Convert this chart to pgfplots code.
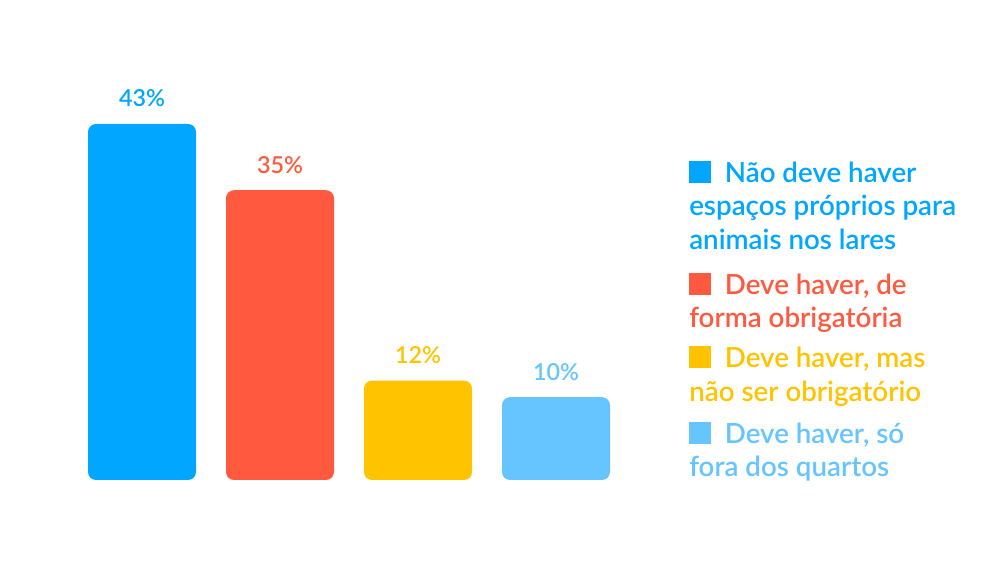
\documentclass[border=0pt]{standalone}
\usepackage{pgfplots}
\pgfplotsset{compat=1.18}
\usepackage{fontspec}
\setmainfont{Lato Semibold}
\definecolor{c1}{HTML}{00A6FF}
\definecolor{c2}{HTML}{FF5A40}
\definecolor{c3}{HTML}{FFC300}
\definecolor{c4}{HTML}{66C4FF}
\begin{document}
\begin{tikzpicture}
\useasboundingbox (0,0) rectangle (750pt,422.25pt);
\begin{axis}[
  at={(54.75pt,62.25pt)}, anchor=south west,
  scale only axis, width=414pt, height=310.5pt,
  xmin=-0.5, xmax=3.5, ymin=0, ymax=50,
  axis lines=none, clip=false,
  ybar, bar width=81pt, bar shift=0pt,
  /pgf/number format/assume math mode=true,
  nodes near coords={\pgfmathprintnumber{\pgfplotspointmeta}\%},
  every node near coord/.append style={anchor=base, yshift=12.75pt, font=\fontsize{17.5}{20}\selectfont},
]
\addplot[fill=c1, draw=none, rounded corners=6pt, bar shift=0pt, every node near coord/.append style={text=c1}] coordinates {(0,43)};
\addplot[fill=c2, draw=none, rounded corners=6pt, bar shift=0pt, every node near coord/.append style={text=c2}] coordinates {(1,35)};
\addplot[fill=c3, draw=none, rounded corners=6pt, bar shift=0pt, every node near coord/.append style={text=c3}] coordinates {(2,12)};
\addplot[fill=c4, draw=none, rounded corners=6pt, bar shift=0pt, every node near coord/.append style={text=c4}] coordinates {(3,10)};
\end{axis}
\tikzset{lg/.style={anchor=base west, inner sep=0pt, font=\fontsize{20.8}{24}\selectfont}}
% legend entry 1
\node[lg, text=c1] at (516.75pt,285pt) {\rule{16.5pt}{16.5pt}\hspace{10.2pt}Não deve haver};
\node[lg, text=c1] at (516.75pt,260.25pt) {espaços próprios para};
\node[lg, text=c1] at (516.75pt,234.75pt) {animais nos lares};
% legend entry 2
\node[lg, text=c2] at (516.75pt,201pt) {\rule{16.5pt}{16.5pt}\hspace{10.2pt}Deve haver, de};
\node[lg, text=c2] at (516.75pt,176.25pt) {forma obrigatória};
% legend entry 3
\node[lg, text=c3] at (516.75pt,146.25pt) {\rule{16.5pt}{16.5pt}\hspace{10.2pt}Deve haver, mas};
\node[lg, text=c3] at (516.75pt,120.75pt) {não ser obrigatório};
% legend entry 4
\node[lg, text=c4] at (516.75pt,89.25pt) {\rule{16.5pt}{16.5pt}\hspace{10.2pt}Deve haver, só};
\node[lg, text=c4] at (516.75pt,64.5pt) {fora dos quartos};
\end{tikzpicture}
\end{document}
